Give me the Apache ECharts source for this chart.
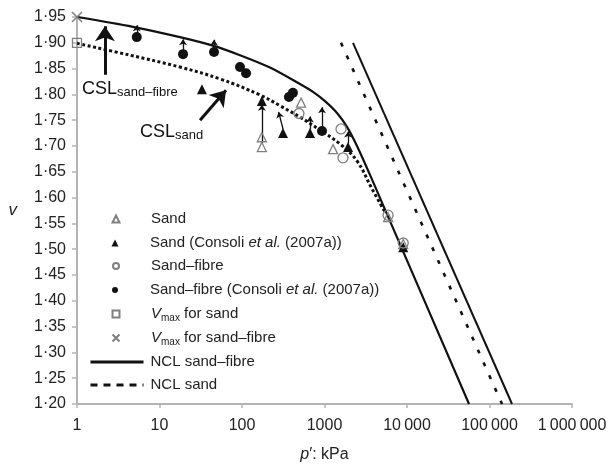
<!DOCTYPE html>
<html>
<head>
<meta charset="utf-8">
<script src="https://cdn.jsdelivr.net/npm/echarts@6/dist/echarts.min.js"></script>
<style>
  html, body { margin: 0; padding: 0; background: #fff; }
  #chart { width: 611px; height: 466px; }
</style>
</head>
<body>
<div id="chart"></div>
<script>
// Specific volume v against mean effective stress p' (kPa, log scale)
const sandOpen = [[174, 1.698], [174, 1.717], [520, 1.784], [1270, 1.694], [5900, 1.562], [9000, 1.51]];
const sandConsoli = [[32.7, 1.81], [174, 1.787], [314, 1.725], [667, 1.725], [1930, 1.698], [9000, 1.504]];
const sandFibreOpen = [[490, 1.763], [1585, 1.733], [1675, 1.677], [5900, 1.566], [9000, 1.512]];
const sandFibreConsoli = [[5.3, 1.911], [19.3, 1.878], [45.8, 1.882], [94.6, 1.853], [112, 1.841], [371, 1.795], [414, 1.803], [933, 1.729]];
const vmaxSand = [[1, 1.90]];
const vmaxSandFibre = [[1, 1.95]];

// Critical state lines (curved) and normal compression lines (straight)
const cslSandFibre = [[1, 1.95], [4.77, 1.931], [17.7, 1.911], [43.3, 1.895], [94.6, 1.876], [218.5, 1.852],
  [504.7, 1.820], [725.5, 1.805], [1014, 1.787], [1418, 1.764], [1875, 1.737], [2477, 1.700], [3561, 1.644],
  [5117, 1.586], [56480, 1.20]];
const cslSand = [[1, 1.899], [4.39, 1.876], [17.7, 1.853], [54.1, 1.830], [165.2, 1.799], [289, 1.778], [504.7, 1.756],
  [881, 1.731], [1541, 1.704], [2477, 1.671], [3764, 1.617], [5408, 1.572]];
const nclSandFibre = [[2215, 1.90], [187500, 1.20]];
const nclSand = [[1585, 1.90], [141900, 1.20]];

// Short arrows between paired test results: [p from, v from, p to, v to]
const pathArrows = [
  [5.3, 1.917, 5.3, 1.934], [19.3, 1.885, 19.3, 1.907], [45.8, 1.889, 45.8, 1.906],
  [174, 1.706, 174, 1.78], [314, 1.733, 278, 1.766], [667, 1.732, 667, 1.757],
  [933, 1.737, 933, 1.775], [1930, 1.705, 1930, 1.728]
];
// Pointer arrows for the two CSL captions
const captionArrows = [[2.18, 1.838, 2.18, 1.932], [31, 1.75, 64, 1.808]];

const xTicks = ['1', '10', '100', '1000', '10\u2009000', '100\u2009000', '1\u2009000\u2009000'];

const FONT = 'Liberation Sans, Arial, Helvetica, sans-serif';
const openStyle = { color: 'rgba(255,255,255,0)', borderColor: '#808080', borderWidth: 1.3, opacity: 1 };
const solidStyle = { color: '#111', opacity: 1 };

const legendRich = {
  i: { fontStyle: 'italic', fontSize: 15, fontFamily: FONT, color: '#222', lineHeight: 18 },
  s: { fontSize: 10, fontFamily: FONT, color: '#222', lineHeight: 8, verticalAlign: 'bottom' }
};
const legendText = {
  'Sand': 'Sand',
  'Sand (Consoli et al. (2007a))': 'Sand (Consoli {i|et al.} (2007a))',
  'Sand–fibre': 'Sand–fibre',
  'Sand–fibre (Consoli et al. (2007a))': 'Sand–fibre (Consoli {i|et al.} (2007a))',
  'Vmax for sand': '{i|V}{s|max} for sand',
  'Vmax for sand–fibre': '{i|V}{s|max} for sand–fibre',
  'NCL sand–fibre': 'NCL sand–fibre',
  'NCL sand': 'NCL sand'
};
const legendRows = [
  ['Sand', 219, 7], ['Sand (Consoli et al. (2007a))', 243, 7], ['Sand–fibre', 266, 6],
  ['Sand–fibre (Consoli et al. (2007a))', 290, 6], ['Vmax for sand', 314, 7], ['Vmax for sand–fibre', 338, 7],
  ['NCL sand–fibre', 362, 0], ['NCL sand', 385, 0]
];

const legends = legendRows.map(([name, cy, iconSize], idx) => {
  const isLine = idx >= 6;
  const lg = {
    data: [name],
    orient: 'vertical',
    left: isLine ? 89 : 115 - iconSize / 2,
    top: cy - 9,
    padding: 0,
    itemWidth: isLine ? 53 : iconSize,
    itemHeight: isLine ? 14 : iconSize,
    symbolKeepAspect: true,
    selectedMode: false,
    formatter: n => legendText[n],
    textStyle: {
      fontSize: 15, fontFamily: FONT, color: '#222', lineHeight: 18, rich: legendRich,
      padding: [0, 0, 0, isLine ? 2 : 150 - (115 + iconSize / 2) - 5]
    }
  };
  if (isLine) {
    // line-only key: hide the marker drawn in the middle of the sample line
    lg.itemStyle = { opacity: 0 };
    lg.lineStyle = idx === 7 ? { type: [7, 6], width: 3, opacity: 1 } : { width: 3, opacity: 1 };
  }
  return lg;
});

const chart = echarts.init(document.getElementById('chart'), null, { renderer: 'canvas' });

chart.setOption({
  backgroundColor: '#fff',
  animation: false,
  grid: { left: 77, right: 39, top: 17, bottom: 62, outerBoundsMode: 'none', containLabel: false },
  legend: legends,
  xAxis: {
    type: 'log', logBase: 10, min: 1, max: 1000000,
    name: '{i|p}′: kPa', nameLocation: 'middle', nameGap: 43,
    nameTextStyle: { fontSize: 16, fontFamily: FONT, color: '#222',
      rich: { i: { fontStyle: 'italic', fontSize: 16, fontFamily: FONT, color: '#222' } } },
    axisLine: { lineStyle: { color: '#b4b4b4', width: 2 } },
    axisTick: { show: true, length: 4, lineStyle: { color: '#b4b4b4', width: 1.5 } },
    minorTick: { show: false },
    splitLine: { show: false },
    axisLabel: { fontSize: 16, fontFamily: FONT, color: '#222', margin: 14,
      formatter: v => xTicks[Math.round(Math.log10(v))] }
  },
  yAxis: {
    type: 'value', min: 1.2, max: 1.95, interval: 0.05,
    name: 'v', nameLocation: 'middle', nameGap: 60, nameRotate: 0,
    nameTextStyle: { fontSize: 17, fontStyle: 'italic', fontFamily: FONT, color: '#222' },
    axisLine: { show: true, lineStyle: { color: '#b4b4b4', width: 2 } },
    axisTick: { show: true, length: 5, lineStyle: { color: '#b4b4b4', width: 1.5 } },
    splitLine: { show: false },
    axisLabel: { fontSize: 16, fontFamily: FONT, color: '#222', margin: 11,
      formatter: v => v.toFixed(2).replace('.', '·') }
  },
  graphic: [
    { type: 'text', left: 82, top: 80, silent: true,
      style: { text: '{a|CSL}{b|sand–fibre}', rich: {
        a: { fontSize: 18, fontFamily: FONT, fill: '#111', lineHeight: 20 },
        b: { fontSize: 13, fontFamily: FONT, fill: '#111', lineHeight: 10, verticalAlign: 'bottom' } } } },
    { type: 'text', left: 140, top: 123, silent: true,
      style: { text: '{a|CSL}{b|sand}', rich: {
        a: { fontSize: 18, fontFamily: FONT, fill: '#111', lineHeight: 20 },
        b: { fontSize: 13, fontFamily: FONT, fill: '#111', lineHeight: 10, verticalAlign: 'bottom' } } } }
  ],
  series: [
    { name: 'CSL sand–fibre', type: 'line', data: cslSandFibre, smooth: 0.3, symbol: 'none',
      lineStyle: { color: '#111', width: 2.2 }, z: 2 },
    { name: 'CSL sand', type: 'line', data: cslSand, smooth: 0.4, symbol: 'none',
      lineStyle: { color: '#111', width: 3, type: [3, 2.5] }, z: 2 },
    { name: 'NCL sand–fibre', type: 'line', data: nclSandFibre, symbol: 'none', showSymbol: false,
      itemStyle: { color: '#111' }, lineStyle: { color: '#111', width: 2 }, z: 2 },
    { name: 'NCL sand', type: 'line', data: nclSand, symbol: 'none', showSymbol: false,
      itemStyle: { color: '#111' }, lineStyle: { color: '#111', width: 2.6, type: [4, 10] }, z: 2 },
    { name: 'path arrows', type: 'lines', coordinateSystem: 'cartesian2d',
      data: pathArrows.map(a => ({ coords: [[a[0], a[1]], [a[2], a[3]]] })),
      symbol: ['none', 'arrow'], symbolSize: 6, lineStyle: { color: '#111', width: 1.3, opacity: 1 }, z: 3 },
    { name: 'caption arrows', type: 'lines', coordinateSystem: 'cartesian2d',
      data: captionArrows.map(a => ({ coords: [[a[0], a[1]], [a[2], a[3]]] })),
      symbol: ['none', 'arrow'], symbolSize: 15, lineStyle: { color: '#111', width: 3, opacity: 1 }, z: 3 },
    { name: 'Sand', type: 'scatter', data: sandOpen, symbol: 'triangle', symbolSize: 9, symbolKeepAspect: true, itemStyle: openStyle, z: 4 },
    { name: 'Sand (Consoli et al. (2007a))', type: 'scatter', data: sandConsoli, symbol: 'triangle', symbolSize: 10, symbolKeepAspect: true, itemStyle: solidStyle, z: 4 },
    { name: 'Sand–fibre', type: 'scatter', data: sandFibreOpen, symbol: 'circle', symbolSize: 10, itemStyle: openStyle, z: 4 },
    { name: 'Sand–fibre (Consoli et al. (2007a))', type: 'scatter', data: sandFibreConsoli, symbol: 'circle', symbolSize: 10, itemStyle: solidStyle, z: 4 },
    { name: 'Vmax for sand', type: 'scatter', data: vmaxSand, symbol: 'rect', symbolSize: 9, itemStyle: openStyle, z: 4 },
    { name: 'Vmax for sand–fibre', type: 'scatter', data: vmaxSandFibre, symbol: 'path://M0,0L10,10M10,0L0,10', symbolSize: 10,
      itemStyle: { color: 'rgba(255,255,255,0)', borderColor: '#808080', borderWidth: 1.5, opacity: 1 }, z: 4 }
  ]
});
</script>
</body>
</html>
